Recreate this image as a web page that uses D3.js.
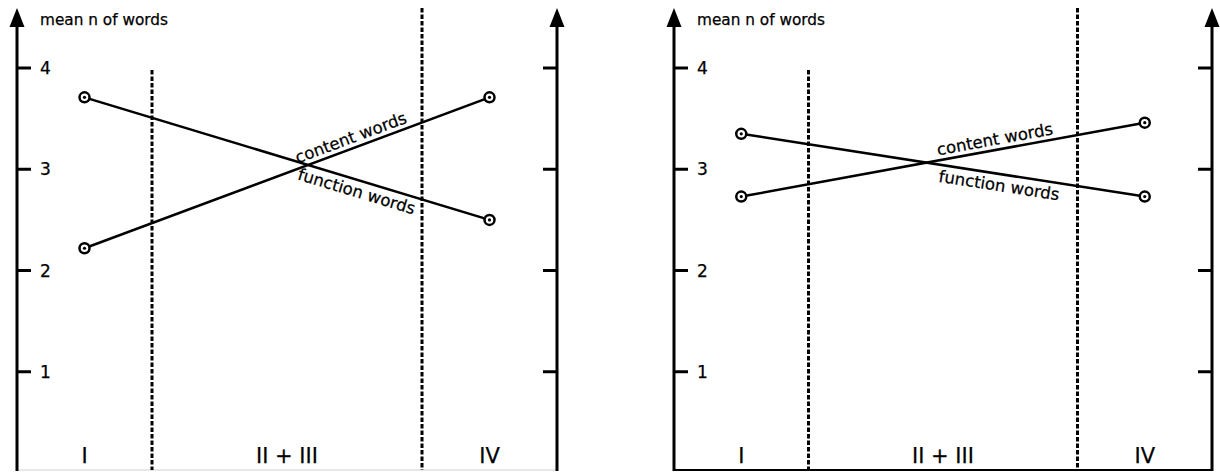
<!DOCTYPE html>
<html>
<head>
<meta charset="utf-8">
<script src="https://cdn.jsdelivr.net/npm/d3@7.9.0/dist/d3.min.js"></script>
<style>
  html, body { margin: 0; padding: 0; background: #fff; }
  svg { display: block; }
  text { font-family: "DejaVu Sans", sans-serif; fill: #000; stroke: #000; stroke-width: 0.25px; }
</style>
</head>
<body>
<svg id="chart" width="1220" height="472"></svg>
<script>
// stage positions along the x axis (I, II + III, IV)
const stageLabels = ['I', 'II + III', 'IV'];
const stagePos = [1, 2.5, 4];
const dividers = [1.5, 3.5];
const pointStages = [1, 4];
const yTicks = [1, 2, 3, 4];

// mean n of words at stage I and IV
const leftContent = [2.22, 3.71];
const leftFunction = [3.71, 2.50];
const rightContent = [2.73, 3.46];
const rightFunction = [3.35, 2.73];

const svg = d3.select('#chart');
const y = d3.scaleLinear().domain([0, 4]).range([473, 68]);
const bottomY = 470;
const topY = 8;

function drawPanel(x0, x1, content, func, opts) {
  const x = d3.scaleLinear().domain([0.5, 4.5]).range([x0, x1]);
  const g = svg.append('g');

  // bottom line
  g.append('line')
    .attr('x1', x(0.5)).attr('x2', x(4.5))
    .attr('y1', bottomY).attr('y2', bottomY)
    .attr('stroke', opts.bottomColor).attr('stroke-width', opts.bottomWidth);

  // dashed dividers
  dividers.forEach((d, i) => {
    g.append('line')
      .attr('x1', x(d)).attr('x2', x(d))
      .attr('y1', i === 0 ? y(3.98) : topY).attr('y2', bottomY)
      .attr('stroke', '#000').attr('stroke-width', 3)
      .attr('stroke-dasharray', '4.5,2');
  });

  // axes with arrows
  [0.5, 4.5].forEach((s, i) => {
    const ax = x(s);
    g.append('line')
      .attr('x1', ax).attr('x2', ax)
      .attr('y1', bottomY + 1).attr('y2', topY + 10)
      .attr('stroke', '#000').attr('stroke-width', 3);
    g.append('path')
      .attr('d', `M${ax},${topY} L${ax - 7.5},${topY + 19} L${ax + 7.5},${topY + 19} Z`)
      .attr('fill', '#000');
    const dir = i === 0 ? 1 : -1;
    g.selectAll(null)
      .data(yTicks)
      .enter()
      .append('line')
      .attr('x1', ax).attr('x2', ax + dir * 14)
      .attr('y1', d => y(d)).attr('y2', d => y(d))
      .attr('stroke', '#000').attr('stroke-width', 3);
  });

  // tick labels
  g.selectAll(null)
    .data(yTicks)
    .enter()
    .append('text')
    .attr('x', x(0.5) + 23)
    .attr('y', d => y(d))
    .attr('dy', '0.36em')
    .attr('font-size', 17)
    .text(d => d);

  g.append('text')
    .attr('x', x(0.5) + 23)
    .attr('y', 25)
    .attr('font-size', 15.3)
    .text('mean n of words');

  // stage labels
  g.selectAll(null)
    .data(stageLabels)
    .enter()
    .append('text')
    .attr('x', (d, i) => x(stagePos[i]))
    .attr('y', 463)
    .attr('text-anchor', 'middle')
    .attr('font-size', 21)
    .text(d => d);

  // series lines
  const line = d3.line()
    .x((d, i) => x(pointStages[i]))
    .y(d => y(d));

  [content, func].forEach(vals => {
    g.append('path')
      .attr('d', line(vals))
      .attr('fill', 'none')
      .attr('stroke', '#000').attr('stroke-width', 2.5);
    vals.forEach((v, i) => {
      g.append('circle')
        .attr('cx', x(pointStages[i])).attr('cy', y(v))
        .attr('r', 5)
        .attr('fill', '#fff').attr('stroke', '#000').attr('stroke-width', 2.5);
      g.append('circle')
        .attr('cx', x(pointStages[i])).attr('cy', y(v))
        .attr('r', 1.6)
        .attr('fill', '#000');
    });
  });

  // labels along lines
  function lineLabel(vals, at, text, offset) {
    const xa = x(pointStages[0]), xb = x(pointStages[1]);
    const ya = y(vals[0]), yb = y(vals[1]);
    const t = (x(at) - xa) / (xb - xa);
    const px = xa + t * (xb - xa);
    const py = ya + t * (yb - ya);
    const ang = Math.atan2(yb - ya, xb - xa) * 180 / Math.PI;
    g.append('text')
      .attr('transform', `translate(${px},${py}) rotate(${ang})`)
      .attr('y', offset)
      .attr('text-anchor', 'middle')
      .attr('font-size', 16.5)
      .text(text);
  }
  lineLabel(content, opts.contentAt, 'content words', -5);
  lineLabel(func, opts.functionAt, 'function words', 17);
}

drawPanel(17, 557, leftContent, leftFunction,
  { bottomColor: '#d0d0d0', bottomWidth: 1, contentAt: 3.0, functionAt: 3.04 });
drawPanel(674, 1212, rightContent, rightFunction,
  { bottomColor: '#000', bottomWidth: 2, contentAt: 2.9, functionAt: 2.93 });
</script>
</body>
</html>
